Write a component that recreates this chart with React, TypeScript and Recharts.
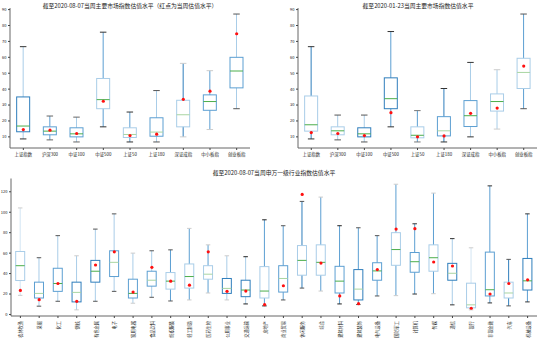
import { ComposedChart, Bar, Line, XAxis, YAxis } from 'recharts';

const FONT = '"Noto Sans CJK SC", "DejaVu Sans", sans-serif';

// ---- main index valuation, week of 2020-08-07 ----
const indexNames = ['上证指数', '沪深300', '中证100', '中证500', '上证50', '上证180', '深证成指', '中小板指', '创业板指'];
const augLow = [8.7, 8.1, 6.8, 16.3, 6.8, 6.8, 10.0, 14.6, 27.7];
const augQ1 = [13.2, 11.3, 10.0, 27.7, 9.6, 10.4, 16.3, 26.7, 40.8];
const augMedian = [16.8, 13.6, 11.9, 33.4, 11.5, 13.0, 23.9, 32.2, 51.4];
const augQ3 = [35.1, 16.3, 15.7, 46.7, 15.7, 22.0, 33.0, 36.4, 60.0];
const augHigh = [66.7, 23.1, 22.4, 75.8, 25.6, 39.1, 56.2, 51.6, 87.2];
const augCurrent = [14.6, 14.2, 12.1, 32.4, 10.8, 11.7, 33.6, 38.7, 74.8];

// ---- main index valuation, week of 2020-01-23 ----
const janLow = [8.7, 8.1, 6.8, 16.3, 6.8, 6.8, 10.0, 14.9, 27.7];
const janQ1 = [13.6, 11.3, 10.0, 27.7, 9.4, 10.6, 16.5, 26.2, 40.4];
const janMedian = [17.6, 13.8, 11.9, 34.0, 11.0, 13.8, 23.3, 32.2, 50.5];
const janQ3 = [35.7, 16.3, 15.7, 47.1, 16.3, 22.7, 32.8, 37.0, 59.4];
const janHigh = [66.7, 23.7, 23.7, 76.2, 26.5, 40.4, 56.8, 52.2, 87.2];
const janCurrent = [12.7, 12.1, 10.8, 25.2, 10.0, 10.6, 24.8, 28.1, 54.5];

// ---- Shenwan level-1 industries, week of 2020-08-07 ----
const industryNames = [
  '农林牧渔', '采掘', '化工', '钢铁', '有色金属', '电子', '家用电器', '食品饮料', '纺织服装', '轻工制造',
  '医药生物', '公用事业', '交通运输', '房地产', '商业贸易', '休闲服务', '综合', '建筑材料', '建筑装饰', '电气设备',
  '国防军工', '计算机', '传媒', '通信', '银行', '非银金融', '汽车', '机械设备',
];
const indLow = [18.7, 8.1, 12.9, 4.5, 12.9, 22.6, 11.0, 16.8, 13.2, 14.2, 21.0, 14.2, 10.3, 8.4, 14.2, 25.8, 22.9, 10.3, 9.7, 18.1, 18.4, 20.0, 20.3, 9.4, 4.5, 11.3, 8.4, 12.3];
const indQ1 = [33.2, 16.1, 22.6, 12.3, 31.6, 37.1, 16.1, 27.7, 24.8, 25.8, 34.5, 20.6, 17.4, 16.1, 21.9, 38.4, 38.4, 21.0, 14.2, 33.5, 48.1, 41.3, 42.3, 33.5, 6.5, 18.1, 16.1, 23.9];
const indMedian = [47.7, 20.6, 30.3, 21.6, 42.3, 51.0, 20.6, 33.5, 32.6, 37.1, 39.4, 25.5, 23.9, 22.9, 35.2, 52.9, 51.0, 32.6, 24.8, 42.6, 63.5, 51.6, 55.5, 40.3, 9.4, 24.2, 21.0, 32.9];
const indQ3 = [61.6, 31.6, 45.2, 31.6, 52.9, 62.3, 34.5, 42.3, 41.0, 49.4, 47.7, 35.2, 33.5, 46.8, 47.7, 67.4, 68.1, 47.1, 43.9, 50.6, 80.0, 60.6, 68.1, 50.0, 30.6, 61.0, 31.6, 54.8];
const indHigh = [104.2, 55.5, 77.1, 57.4, 83.5, 98.4, 60.0, 62.3, 63.2, 84.2, 68.1, 57.4, 56.5, 92.6, 86.8, 110.6, 114.8, 86.8, 84.8, 77.1, 127.4, 88.7, 118.7, 74.2, 65.2, 125.8, 53.9, 98.4];
const indCurrent = [23.5, 14.5, 30.3, 12.9, 48.4, 61.3, 21.9, 46.1, 32.6, 28.7, 61.3, 22.6, 22.9, 9.7, 28.1, 117.4, 50.3, 18.1, 10.6, 43.9, 83.5, 83.9, 51.3, 47.4, 6.1, 20.0, 30.3, 33.9];

// ---- per-box line colours (box, whisker, cap, median) ----
const D = '#2f7ebc';
const M = '#5c9fd2';
const L = '#a9cde8';
const VL = '#d3e5f3';
const G = '#4cae4c';
const LG = '#a8d5a2';
type BoxStyle = { box: string; whisker: string; cap: string; median: string };
const st = (box: string, whisker: string, cap: string, median: string): BoxStyle => ({ box, whisker, cap, median });

const augStyles = [
  st(D, L, '#333', G), st(M, M, '#666', G), st(M, L, '#666', G), st(L, M, '#333', G), st(L, M, '#333', LG),
  st(M, L, '#555', LG), st(L, D, '#ccc', LG), st(M, M, '#ccc', G), st(M, L, '#555', G),
];
const janStyles = [
  st(L, D, '#333', G), st(L, L, '#555', G), st(D, L, '#555', G), st(D, M, '#333', G), st(L, M, '#777', G),
  st(M, D, '#333', LG), st(M, L, '#333', G), st(L, L, '#ccc', G), st(L, M, '#555', LG),
];
const indStyles = [
  st(L, VL, '#ccc', G), st(M, L, '#555', LG), st(M, L, '#555', G), st(D, L, '#ccc', LG), st(D, L, '#555', G),
  st(M, L, '#555', LG), st(M, L, '#ccc', G), st(M, L, '#555', LG), st(L, M, '#555', G), st(L, M, '#ccc', G),
  st(L, M, '#ccc', LG), st(D, L, '#ccc', LG), st(D, L, '#222', G), st(L, M, '#222', G), st(M, M, '#555', LG),
  st(L, D, '#555', G), st(L, M, '#ccc', G), st(M, M, '#222', G), st(D, M, '#555', LG), st(M, M, '#555', G),
  st(L, M, '#ccc', G), st(M, M, '#333', G), st(L, M, '#ccc', G), st(D, L, '#333', LG), st(L, VL, '#ccc', LG),
  st(M, M, '#333', G), st(L, D, '#555', LG), st(D, M, '#333', G),
];

type Row = { name: string; low: number; q1: number; median: number; q3: number; high: number; current: number; style: BoxStyle };

function buildRows(names: string[], low: number[], q1: number[], median: number[], q3: number[], high: number[], current: number[], styles: BoxStyle[]): Row[] {
  return names.map((name, i) => ({
    name, low: low[i], q1: q1[i], median: median[i], q3: q3[i], high: high[i], current: current[i], style: styles[i],
  }));
}

const augRows = buildRows(indexNames, augLow, augQ1, augMedian, augQ3, augHigh, augCurrent, augStyles);
const janRows = buildRows(indexNames, janLow, janQ1, janMedian, janQ3, janHigh, janCurrent, janStyles);
const indRows = buildRows(industryNames, indLow, indQ1, indMedian, indQ3, indHigh, indCurrent, indStyles);

// The bar spans low..high; the other box parts are placed on the same linear scale.
function BoxShape(props: any) {
  const { x, y, width, height, payload } = props;
  const d = payload as Row;
  const top = Math.min(y, y + height);
  const h = Math.abs(height);
  const py = (v: number) => top + ((d.high - v) / (d.high - d.low)) * h;
  const cx = x + width / 2;
  const cw = width / 4;
  const s = d.style;
  return (
    <g>
      <line x1={cx} x2={cx} y1={py(d.high)} y2={py(d.q3)} stroke={s.whisker} strokeWidth={1} />
      <line x1={cx} x2={cx} y1={py(d.q1)} y2={py(d.low)} stroke={s.whisker} strokeWidth={1} />
      <line x1={cx - cw} x2={cx + cw} y1={py(d.high)} y2={py(d.high)} stroke={s.cap} strokeWidth={1} />
      <line x1={cx - cw} x2={cx + cw} y1={py(d.low)} y2={py(d.low)} stroke={s.cap} strokeWidth={1} />
      <rect x={x} y={py(d.q3)} width={width} height={py(d.q1) - py(d.q3)} fill="none" stroke={s.box} strokeWidth={1} />
      <line x1={x} x2={x + width} y1={py(d.median)} y2={py(d.median)} stroke={s.median} strokeWidth={1} />
    </g>
  );
}

const RedDot = (props: any) => {
  const { cx, cy, index } = props;
  if (cx == null || cy == null) return <g key={index} />;
  return <circle key={index} cx={cx} cy={cy} r={1.6} fill="#ff1010" />;
};

const VerticalTick = (props: any) => {
  const { x, y, payload } = props;
  return (
    <text
      transform={`translate(${x},${y + 1}) rotate(-90)`}
      textAnchor="end"
      dominantBaseline="central"
      fontSize={4.2}
      fill="#222"
      fontFamily={FONT}
    >
      {payload.value}
    </text>
  );
};

interface PanelProps {
  rows: Row[];
  left: number;
  top: number;
  width: number;
  height: number;
  marginTop: number;
  xAxisHeight: number;
  yAxisWidth: number;
  domain: [number, number];
  ticks: number[];
  verticalLabels?: boolean;
}

function BoxPanel({ rows, left, top, width, height, marginTop, xAxisHeight, yAxisWidth, domain, ticks, verticalLabels }: PanelProps) {
  return (
    <div style={{ position: 'absolute', left, top }}>
      <ComposedChart
        width={width}
        height={height}
        data={rows}
        margin={{ top: marginTop, right: 2, bottom: 0, left: 0 }}
        barCategoryGap="25%"
      >
        <XAxis
          dataKey="name"
          interval={0}
          height={xAxisHeight}
          tickSize={2}
          tickMargin={verticalLabels ? 2 : 3}
          tickLine={{ stroke: '#444' }}
          axisLine={{ stroke: '#666' }}
          tick={verticalLabels ? <VerticalTick /> : { fontSize: 4.4, fill: '#222', fontFamily: FONT }}
        />
        <XAxis xAxisId="frame" orientation="top" height={0} tick={false} tickLine={false} axisLine={{ stroke: '#aaa' }} />
        <YAxis
          type="number"
          domain={domain}
          ticks={ticks}
          allowDataOverflow
          width={yAxisWidth}
          tickSize={2}
          tickMargin={1.5}
          tickLine={{ stroke: '#444' }}
          axisLine={{ stroke: '#666' }}
          tick={{ fontSize: 4, fill: '#222', fontFamily: FONT }}
        />
        <YAxis yAxisId="frame" orientation="right" width={0} tick={false} tickLine={false} axisLine={{ stroke: '#aaa' }} />
        <Bar dataKey={(d: Row) => [d.low, d.high]} shape={BoxShape} isAnimationActive={false} />
        <Line dataKey="current" stroke="none" dot={RedDot} activeDot={false} isAnimationActive={false} />
      </ComposedChart>
    </div>
  );
}

const titleStyle = (centerX: number, top: number, w: number): React.CSSProperties => ({
  position: 'absolute',
  left: centerX - w / 2,
  top,
  width: w,
  textAlign: 'center',
  fontSize: 5.8,
  lineHeight: '7px',
  color: '#222',
  fontFamily: FONT,
  whiteSpace: 'nowrap',
});

export default function App() {
  return (
    <div style={{ position: 'relative', width: 540, height: 342, background: '#fff', overflow: 'hidden' }}>
      <style>{'body{margin:0}'}</style>
      <div style={titleStyle(130, 1.5, 240)}>截至2020-08-07当周主要市场指数估值水平（红点为当周估值水平）</div>
      <div style={titleStyle(418, 1.5, 240)}>截至2020-01-23当周主要市场指数估值水平</div>
      <div style={titleStyle(274, 168.5, 300)}>截至2020-08-07当周申万一级行业指数估值水平</div>
      <BoxPanel
        rows={augRows}
        left={0}
        top={0}
        width={252}
        height={162}
        marginTop={8}
        xAxisHeight={14}
        yAxisWidth={10}
        domain={[3, 91]}
        ticks={[10, 20, 30, 40, 50, 60, 70, 80, 90]}
      />
      <BoxPanel
        rows={janRows}
        left={288}
        top={0}
        width={251}
        height={162}
        marginTop={8}
        xAxisHeight={14}
        yAxisWidth={10}
        domain={[3, 91]}
        ticks={[10, 20, 30, 40, 50, 60, 70, 80, 90]}
      />
      <BoxPanel
        rows={indRows}
        left={0}
        top={170}
        width={539}
        height={172}
        marginTop={8.5}
        xAxisHeight={26}
        yAxisWidth={11}
        domain={[-1.5, 133]}
        ticks={[0, 20, 40, 60, 80, 100, 120]}
        verticalLabels
      />
    </div>
  );
}
